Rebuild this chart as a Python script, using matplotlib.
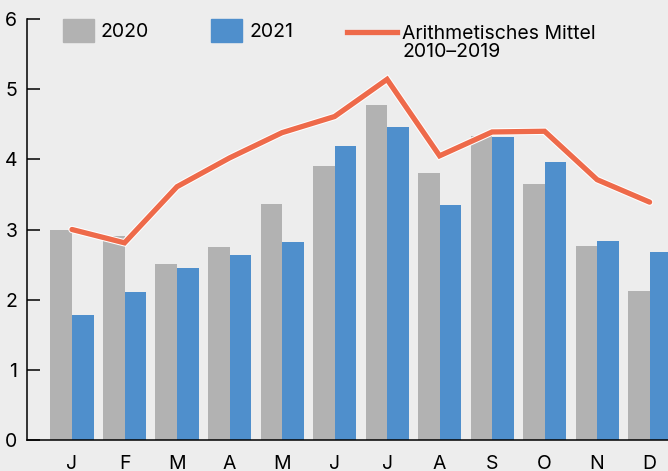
import matplotlib
matplotlib.use("Agg")
import matplotlib.pyplot as plt
import matplotlib.patheffects as pe
from matplotlib.patches import Rectangle
from matplotlib.lines import Line2D
import numpy as np

plt.rcParams['font.family'] = ['Inter', 'DejaVu Sans']

# monthly values
months = ['J', 'F', 'M', 'A', 'M', 'J', 'J', 'A', 'S', 'O', 'N', 'D']
y2020 = [3.00, 2.91, 2.51, 2.75, 3.36, 3.91, 4.77, 3.81, 4.33, 3.65, 2.77, 2.12]
y2021 = [1.78, 2.11, 2.45, 2.64, 2.82, 4.19, 4.46, 3.35, 4.32, 3.96, 2.84, 2.68]
mean_2010_2019 = [3.00, 2.81, 3.61, 4.02, 4.38, 4.61, 5.14, 4.05, 4.39, 4.40, 3.71, 3.39]

bg = '#EDEDED'
c_gray = '#B2B2B2'
c_blue = '#4F8FCC'
c_line = '#EE6A4A'
fs = 14

W, H = 668, 471
fig = plt.figure(figsize=(W / 100, H / 100), dpi=100, facecolor=bg)
ax = fig.add_axes([27 / W, 31 / H, 1 - 27 / W, (440 - 19) / H])
ax.set_facecolor(bg)

x = np.arange(len(months))
bw = 0.41
ax.bar(x - bw / 2, y2020, width=bw, color=c_gray, zorder=2)
ax.bar(x + bw / 2, y2021, width=bw, color=c_blue, zorder=2)
ax.plot(x, mean_2010_2019, color=c_line, lw=3.8, solid_capstyle='round',
        solid_joinstyle='miter', zorder=3,
        path_effects=[pe.Stroke(linewidth=5.3, foreground='white'), pe.Normal()])

ax.set_xlim(-0.857, 11.35)
ax.set_ylim(0, 6)
ax.set_yticks(range(7))
ax.set_xticks(x)
ax.set_xticklabels(months)
for s in ['top', 'right']:
    ax.spines[s].set_visible(False)
for s in ['left', 'bottom']:
    ax.spines[s].set_linewidth(1.1)
ax.tick_params(axis='y', direction='in', length=9.4, width=1.1, pad=7, labelsize=fs)
ax.tick_params(axis='x', length=0, pad=11, labelsize=fs)

# legend drawn in pixel positions of the figure
def fx(px):
    return px / W

def fy(py):
    return 1 - py / H

fig.add_artist(Rectangle((fx(63), fy(42)), fx(31), 23 / H, color=c_gray, transform=fig.transFigure))
fig.text(fx(101), fy(37), '2020', fontsize=fs, va='baseline', ha='left')
fig.add_artist(Rectangle((fx(211), fy(42)), fx(31), 23 / H, color=c_blue, transform=fig.transFigure))
fig.text(fx(249), fy(37), '2021', fontsize=fs, va='baseline', ha='left')
fig.add_artist(Line2D([fx(347), fx(397)], [fy(31.5), fy(31.5)], color=c_line, lw=3.8,
                      transform=fig.transFigure))
fig.text(fx(402), fy(56.7), 'Arithmetisches Mittel\n2010\u20132019', fontsize=fs,
         va='baseline', ha='left', linespacing=1.0)

fig.savefig('out.png', dpi=100, facecolor=bg)
